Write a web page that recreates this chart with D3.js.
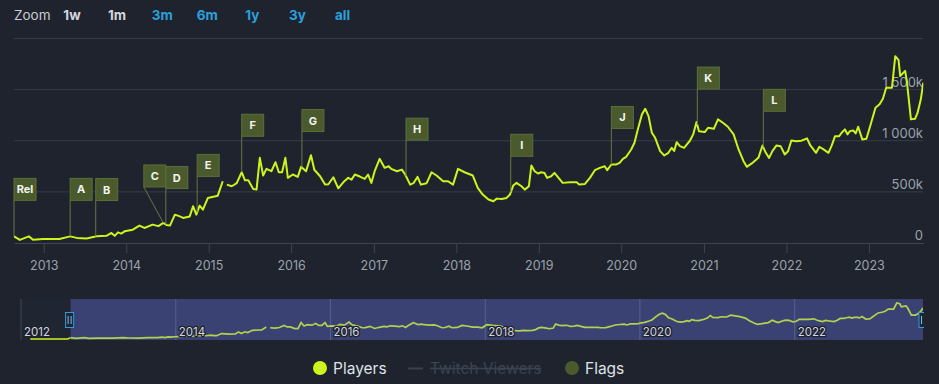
<!DOCTYPE html>
<html><head><meta charset="utf-8">
<script src="https://cdn.jsdelivr.net/npm/d3@7"></script>
<style>
html,body{margin:0;padding:0;background:#1e232e;}
svg{display:block;font-family:Inter,"Noto Sans",sans-serif;}
</style></head><body>
<svg id="c" width="939" height="384"></svg>
<script>
// ---- data (decimal year, concurrent players) ----
const players = [
[2012.12,3000],[2012.60,6000],
[2012.64,65000],[2012.71,30000],[2012.82,65000],[2012.87,32000],[2012.99,40000],[2013.19,40000],
[2013.32,65000],[2013.40,50000],[2013.52,45000],[2013.64,65000],[2013.76,70000],[2013.82,98000],
[2013.86,70000],[2013.90,104000],[2013.94,92000],[2013.98,114000],[2014.08,130000],[2014.16,170000],
[2014.22,147000],[2014.32,180000],[2014.39,165000],[2014.45,196000],[2014.49,175000],[2014.53,170000],
[2014.59,277000],[2014.65,260000],[2014.69,245000],[2014.77,260000],[2014.81,360000],[2014.85,277000],
[2014.89,366000],[2014.93,326000],[2014.99,441000],[2015.11,463000],[2015.17,604000],[2015.195,null],
[2015.22,571000],[2015.28,555000],[2015.34,585000],[2015.40,692000],[2015.44,613000],[2015.48,613000],
[2015.54,529000],[2015.58,522000],[2015.62,833000],[2015.66,660000],[2015.70,725000],[2015.76,702000],
[2015.81,790000],[2015.85,692000],[2015.89,692000],[2015.93,833000],[2015.96,637000],[2016.02,670000],
[2016.08,647000],[2016.12,745000],[2016.18,702000],[2016.24,859000],[2016.28,716000],[2016.35,653000],
[2016.41,571000],[2016.45,575000],[2016.51,643000],[2016.57,535000],[2016.63,594000],[2016.69,637000],
[2016.73,620000],[2016.77,670000],[2016.83,650000],[2016.89,627000],[2016.93,670000],[2016.97,588000],
[2017.01,702000],[2017.07,823000],[2017.13,735000],[2017.18,751000],[2017.21,725000],[2017.28,702000],
[2017.34,718000],[2017.38,670000],[2017.44,571000],[2017.48,585000],[2017.53,647000],[2017.57,571000],
[2017.64,585000],[2017.70,692000],[2017.76,660000],[2017.84,604000],[2017.90,604000],[2017.96,571000],
[2018.02,725000],[2018.10,692000],[2018.20,660000],[2018.26,539000],[2018.32,474000],[2018.39,425000],
[2018.45,408000],[2018.49,434000],[2018.55,430000],[2018.61,441000],[2018.65,474000],[2018.69,562000],
[2018.73,588000],[2018.79,555000],[2018.83,522000],[2018.88,555000],[2018.91,758000],[2018.95,702000],
[2018.99,680000],[2019.03,692000],[2019.07,685000],[2019.10,637000],[2019.15,653000],[2019.19,686000],
[2019.25,627000],[2019.29,588000],[2019.38,594000],[2019.46,594000],[2019.49,571000],[2019.56,578000],
[2019.62,637000],[2019.68,712000],[2019.74,735000],[2019.80,751000],[2019.83,712000],[2019.88,768000],
[2019.94,768000],[2019.98,784000],[2020.02,823000],[2020.06,843000],[2020.12,915000],[2020.16,980000],
[2020.20,1111000],[2020.25,1258000],[2020.29,1313000],[2020.33,1241000],[2020.37,1078000],[2020.41,1029000],
[2020.47,898000],[2020.52,856000],[2020.57,882000],[2020.61,931000],[2020.64,900000],[2020.67,986000],
[2020.71,947000],[2020.76,931000],[2020.83,1000000],[2020.87,1062000],[2020.91,1183000],[2020.94,1094000],
[2021.01,1085000],[2021.05,1127000],[2021.12,1117000],[2021.17,1209000],[2021.23,1176000],[2021.29,1137000],
[2021.36,1062000],[2021.42,915000],[2021.48,800000],[2021.52,745000],[2021.58,778000],[2021.66,833000],
[2021.71,954000],[2021.75,882000],[2021.79,833000],[2021.83,898000],[2021.88,954000],[2021.93,947000],
[2021.98,866000],[2022.02,898000],[2022.06,1003000],[2022.12,996000],[2022.18,1000000],[2022.25,1023000],
[2022.29,954000],[2022.36,882000],[2022.40,941000],[2022.45,915000],[2022.51,882000],[2022.55,954000],
[2022.59,1045000],[2022.64,1045000],[2022.67,1078000],[2022.71,1111000],[2022.74,1062000],[2022.77,1094000],
[2022.81,1101000],[2022.84,1072000],[2022.87,1137000],[2022.92,1013000],[2022.97,1020000],[2023.01,1127000],
[2023.08,1323000],[2023.13,1356000],[2023.17,1411000],[2023.21,1519000],[2023.28,1519000],[2023.32,1827000],
[2023.36,1789000],[2023.38,1633000],[2023.44,1683000],[2023.46,1585000],[2023.51,1209000],[2023.56,1215000],
[2023.59,1272000],[2023.63,1405000],[2023.66,1568000]
];
const flagDates  = [2012.64, 2013.32, 2013.63, 2014.45, 2014.48, 2014.86, 2015.40, 2016.13, 2017.39, 2018.66, 2019.88, 2020.92, 2021.72];
const flagTitles = ["Rel", "A", "B", "C", "D", "E", "F", "G", "H", "I", "J", "K", "L"];
const yTickValues = [0, 500000, 1000000, 1500000, 2000000];
const zoomLabels = ["1w", "1m", "3m", "6m", "1y", "3y", "all"];
const zoomEnabled = [false, false, true, true, true, true, true];
const legendNames = ["Players", "Twitch Viewers", "Flags"];
const navTickYears = [2012, 2014, 2016, 2018, 2020, 2022];
const viewRange = [2012.64, 2023.66];
const fullRange = [2012.0, 2023.66];

// ---- helpers ----
function yd(y){ const yr=Math.floor(y); const a=Date.UTC(yr,0,1), b=Date.UTC(yr+1,0,1); return new Date(a+(y-yr)*(b-a)); }
const pts = players.map(d => ({t: yd(d[0]), v: d[1]}));

const C = {bg:"#1e232e", grid:"#363c48", label:"#9ca2ab", line:"#cbf51c", flagFill:"#4b5a2c", flagStroke:"#5e6e38", pole:"#687743", blue:"#2aa0dc"};
const svg = d3.select("#c");
svg.append("rect").attr("width",939).attr("height",384).attr("fill",C.bg);

// ---- range selector ----
const zg = svg.append("g");
zg.append("text").attr("x",14).attr("y",20).attr("fill","#c9cdd3").attr("font-size",13.5).text("Zoom");
zoomLabels.forEach((l,i)=>{
  zg.append("text").attr("x",72+i*45.1).attr("y",20).attr("text-anchor","middle")
    .attr("font-size",13.5).attr("font-weight",700)
    .attr("fill", zoomEnabled[i] ? C.blue : "#d4d8de").text(l);
});

// ---- main chart ----
const x = d3.scaleUtc().domain(viewRange.map(yd)).range([14, 923.3]);
const y = d3.scaleLinear().domain([0, 2000000]).range([243, 38.5]);

const defs = svg.append("defs");
defs.append("clipPath").attr("id","mclip").append("rect").attr("x",14).attr("y",0).attr("width",909.3).attr("height",250);

const gy = svg.append("g");
yTickValues.forEach(v=>{
  if (v>0) gy.append("line").attr("x1",14).attr("x2",923.3).attr("y1",y(v)).attr("y2",y(v)).attr("stroke",C.grid).attr("stroke-width",1);
  if (v<2000000) gy.append("text").attr("x",923).attr("y",y(v)-3).attr("text-anchor","end")
     .attr("font-size",13).attr("fill",C.label)
     .text(v===0 ? "0" : d3.format(",")(v/1000).replace(/,/g," ")+"k");
});

const xAxis = d3.axisBottom(x).ticks(d3.utcYear.every(1)).tickFormat(d3.utcFormat("%Y")).tickSize(10).tickSizeOuter(0).tickPadding(8);
const gx = svg.append("g").attr("transform","translate(0,243)").call(xAxis);
gx.select(".domain").attr("stroke","#3f4551");
gx.selectAll(".tick line").attr("stroke","#3f4551");
gx.selectAll(".tick text").attr("fill",C.label).attr("font-size",12.5).attr("font-family","Inter,'Noto Sans',sans-serif");

const line = d3.line().defined(d=>d.v!==null).x(d=>x(d.t)).y(d=>y(d.v));
svg.append("path").datum(pts).attr("clip-path","url(#mclip)").attr("d",line)
  .attr("fill","none").attr("stroke",C.line).attr("stroke-width",2).attr("stroke-linejoin","round");

// ---- flags ----
const valid = pts.filter(d=>d.v!==null);
function valueAt(t){
  const i = d3.bisector(d=>d.t).left(valid, t);
  if (i<=0) return valid[0].v;
  if (i>=valid.length) return valid[valid.length-1].v;
  const a=valid[i-1], b=valid[i]; const f=(t-a.t)/(b.t-a.t);
  return a.v + f*(b.v-a.v);
}
const fw=22, fh=22, poleLen=36;
const flags = flagDates.map((d,i)=>{
  const t=yd(d), ax=x(t), ay=y(valueAt(t));
  return {title:flagTitles[i], ax, ay, bx:ax, by:ay-poleLen-fh};
});
for (let i=flags.length-2;i>=0;i--){
  const a=flags[i], b=flags[i+1];
  if (a.bx+fw>b.bx && Math.abs(a.by-b.by)<fh) a.bx=b.bx-fw;
}
const fg = svg.append("g");
flags.forEach(f=>{
  fg.append("line").attr("x1",f.bx).attr("y1",f.by+fh).attr("x2",f.ax).attr("y2",f.ay)
    .attr("stroke",C.pole).attr("stroke-width",1);
  fg.append("rect").attr("x",f.bx).attr("y",f.by).attr("width",fw).attr("height",fh)
    .attr("fill",C.flagFill).attr("stroke",C.flagStroke).attr("stroke-width",1);
  fg.append("text").attr("x",f.bx+fw/2).attr("y",f.by+fh/2+4).attr("text-anchor","middle")
    .attr("font-size",11).attr("font-weight",700).attr("fill","#f2f4ef").text(f.title);
});

// ---- navigator ----
const nx = d3.scaleUtc().domain(fullRange.map(yd)).range([21, 923]);
const ny = d3.scaleLinear().domain([0, d3.max(valid,d=>d.v)]).range([339, 303]);
const nTop=299, nBot=340;
const sx0 = nx(yd(viewRange[0])), sx1 = nx(yd(viewRange[1]));
svg.append("rect").attr("x",21).attr("y",nTop).attr("width",902).attr("height",nBot-nTop).attr("fill","#1f2531");
defs.append("clipPath").attr("id","nsel").append("rect").attr("x",sx0).attr("y",nTop).attr("width",sx1-sx0).attr("height",nBot-nTop);
defs.append("clipPath").attr("id","nunsel").append("rect").attr("x",0).attr("y",nTop).attr("width",sx0).attr("height",nBot-nTop);
const nline = d3.line().defined(d=>d.v!==null).x(d=>nx(d.t)).y(d=>ny(d.v));
svg.append("path").datum(pts).attr("clip-path","url(#nunsel)").attr("d",nline).attr("fill","none").attr("stroke",C.line).attr("stroke-width",1.5);
svg.append("rect").attr("x",sx0).attr("y",nTop).attr("width",sx1-sx0).attr("height",nBot-nTop).attr("fill","#3a4274");
const ng = svg.append("g");
navTickYears.forEach(yr=>{
  const xx = nx(yd(yr));
  ng.append("line").attr("x1",xx).attr("x2",xx).attr("y1",nTop).attr("y2",nBot).attr("stroke","rgba(255,255,255,0.16)");
});
svg.append("path").datum(pts).attr("clip-path","url(#nsel)").attr("d",nline).attr("fill","none").attr("stroke","#b2d24e").attr("stroke-width",1.7);
const nlg = svg.append("g");
navTickYears.forEach(yr=>{
  const xx = nx(yd(yr));
  nlg.append("text").attr("x",xx+3).attr("y",335.5).attr("font-size",11.5).attr("fill","#d3d6dc")
    .attr("stroke","#1d2130").attr("stroke-width",2.5).attr("paint-order","stroke").attr("stroke-linejoin","round").text(yr);
});
defs.append("clipPath").attr("id","nclip").append("rect").attr("x",0).attr("y",0).attr("width",924).attr("height",384);
[sx0-1, sx1].forEach(hx=>{
  const h = svg.append("g").attr("clip-path","url(#nclip)");
  h.append("rect").attr("x",hx-4).attr("y",312.5).attr("width",8).attr("height",15).attr("fill","#1e2535").attr("stroke",C.blue).attr("stroke-width",1);
  h.append("line").attr("x1",hx-1.5).attr("x2",hx-1.5).attr("y1",316).attr("y2",324).attr("stroke","#8fb8d8");
  h.append("line").attr("x1",hx+1.5).attr("x2",hx+1.5).attr("y1",316).attr("y2",324).attr("stroke","#8fb8d8");
});

// ---- legend ----
const lg = svg.append("g");
lg.append("circle").attr("cx",320).attr("cy",368).attr("r",7).attr("fill",C.line);
lg.append("text").attr("x",333).attr("y",373.5).attr("font-size",15.5).attr("fill","#dfe2e6").text(legendNames[0]);
lg.append("line").attr("x1",408).attr("x2",423).attr("y1",368.5).attr("y2",368.5).attr("stroke","#3a414e").attr("stroke-width",2);
lg.append("text").attr("x",430).attr("y",373.5).attr("font-size",15.5).attr("fill","#3c4350")
  .style("text-decoration","line-through").text(legendNames[1]);
lg.append("circle").attr("cx",572).attr("cy",368).attr("r",7).attr("fill",C.flagFill);
lg.append("text").attr("x",585).attr("y",373.5).attr("font-size",15.5).attr("fill","#dfe2e6").text(legendNames[2]);
</script>
</body></html>
